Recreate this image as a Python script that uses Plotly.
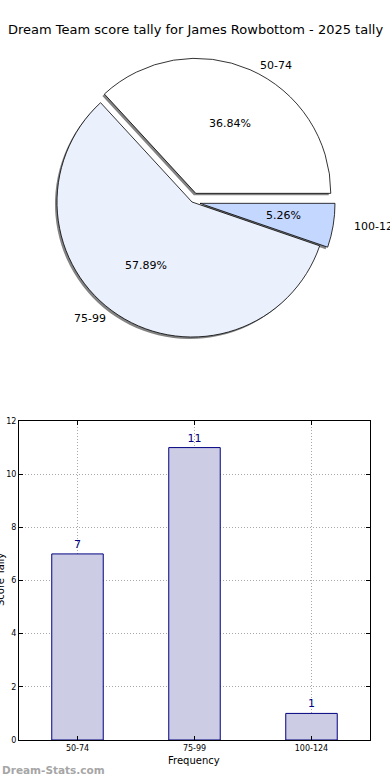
import math
import plotly.graph_objects as go

# ---- data ----
categories = ["50-74", "75-99", "100-124"]
counts = [7, 11, 1]
slice_colors = ["#FFFFFF", "#EAF1FD", "#C4D7FF"]
pulls = [0.07, 0.0, 0.06]
title_text = "Dream Team score tally for James Rowbottom - 2025 tally"
x_title = "Frequency"
y_title = "Score Tally"
watermark = "Dream-Stats.com"

W, H = 390, 780
FONT = "DejaVu Sans"

# pie geometry (pixels)
cx, cy = 192, 202
R = 135
maxpull = max(pulls)
half = R * (1 + maxpull)
total = sum(counts)
# plotly (counterclockwise) puts the first slice clockwise of `rotation`;
# we want the first slice to start at 3 o'clock going counterclockwise
rotation = 90 - 360.0 * counts[0] / total
# label placement stretch (reference pie is slightly wider than tall)
sx, sy = 1.04, 0.94


def px_x(x):
    return x / W


def px_y(y):
    return 1 - y / H


def dom(dx, dy):
    return dict(x=[px_x(cx + dx - half), px_x(cx + dx + half)],
                y=[px_y(cy + dy + half), px_y(cy + dy - half)])


fig = go.Figure()

# shadow pie
fig.add_trace(go.Pie(
    labels=categories, values=counts, sort=False, direction="counterclockwise",
    rotation=rotation, pull=pulls, domain=dom(-2, 2),
    marker=dict(colors=["rgba(100,100,100,0.8)"] * 3, line=dict(width=0)),
    textinfo="none", hoverinfo="skip", showlegend=False,
))
# main pie
fig.add_trace(go.Pie(
    labels=categories, values=counts, sort=False, direction="counterclockwise",
    rotation=rotation, pull=pulls, domain=dom(0, 0),
    marker=dict(colors=slice_colors, line=dict(color="black", width=0.8)),
    textinfo="none", showlegend=False,
))

# pie labels computed from data
start = 0.0
annotations = []
for lab, v, p in zip(categories, counts, pulls):
    span = 360.0 * v / total
    mid = math.radians(start + span / 2)
    ox = cx + p * R * math.cos(mid)
    oy = cy - p * R * math.sin(mid)
    lx = ox + 1.1 * R * sx * math.cos(mid)
    ly = oy - 1.1 * R * sy * math.sin(mid)
    annotations.append(dict(
        x=px_x(lx), y=px_y(ly), xref="paper", yref="paper", text=lab,
        showarrow=False, xanchor="left" if math.cos(mid) > 0 else "right",
        yanchor="middle", font=dict(family=FONT, size=11, color="black")))
    tx = ox + 0.6 * R * sx * math.cos(mid)
    ty = oy - 0.6 * R * sy * math.sin(mid)
    annotations.append(dict(
        x=px_x(tx), y=px_y(ty), xref="paper", yref="paper",
        text="%.2f%%" % (100.0 * v / total),
        showarrow=False, xanchor="center", yanchor="middle",
        font=dict(family=FONT, size=11, color="black")))
    start += span

# bar chart
fig.add_trace(go.Bar(
    x=categories, y=counts, width=0.44,
    marker=dict(color="#CCCCE5", line=dict(color="#000080", width=1)),
    text=[str(c) for c in counts], textposition="outside",
    textfont=dict(family=FONT, size=11, color="#000080"),
    cliponaxis=False, showlegend=False,
))

axis_common = dict(
    showline=True, linecolor="black", linewidth=1, mirror="ticks",
    ticks="inside", ticklen=4, tickcolor="black", automargin=False,
    showgrid=True, gridcolor="#a8a8a8", griddash="1px,2px", gridwidth=1,
    zeroline=False, tickfont=dict(family=FONT, size=8, color="black"),
)

fig.update_layout(
    width=W, height=H, margin=dict(l=0, r=0, t=0, b=0),
    paper_bgcolor="white", plot_bgcolor="white",
    font=dict(family=FONT),
    xaxis=dict(domain=[px_x(19), px_x(370)], range=[-0.5, 2.5],
               anchor="y", **axis_common),
    yaxis=dict(domain=[px_y(740), px_y(421)], range=[0, 12], dtick=2,
               anchor="x", **axis_common),
    annotations=annotations + [
        dict(x=px_x(195), y=px_y(30), xref="paper", yref="paper", text=title_text,
             showarrow=False, xanchor="center", yanchor="middle",
             font=dict(family=FONT, size=13, color="black")),
        dict(x=px_x(194), y=px_y(760), xref="paper", yref="paper", text=x_title,
             showarrow=False, xanchor="center", yanchor="middle",
             font=dict(family=FONT, size=10, color="black")),
        dict(x=px_x(0), y=px_y(580), xref="paper", yref="paper", text=y_title,
             showarrow=False, xanchor="center", yanchor="middle", textangle=-90,
             font=dict(family=FONT, size=10, color="black")),
        dict(x=0, y=px_y(770), xref="paper", yref="paper",
             text="<b>" + watermark + "</b>",
             showarrow=False, xanchor="left", yanchor="middle",
             font=dict(family=FONT, size=10.5, color="#a6a6a6")),
    ],
)

fig.write_html("out.html", config={"displayModeBar": False},
               post_script="document.body.style.margin='0';")
